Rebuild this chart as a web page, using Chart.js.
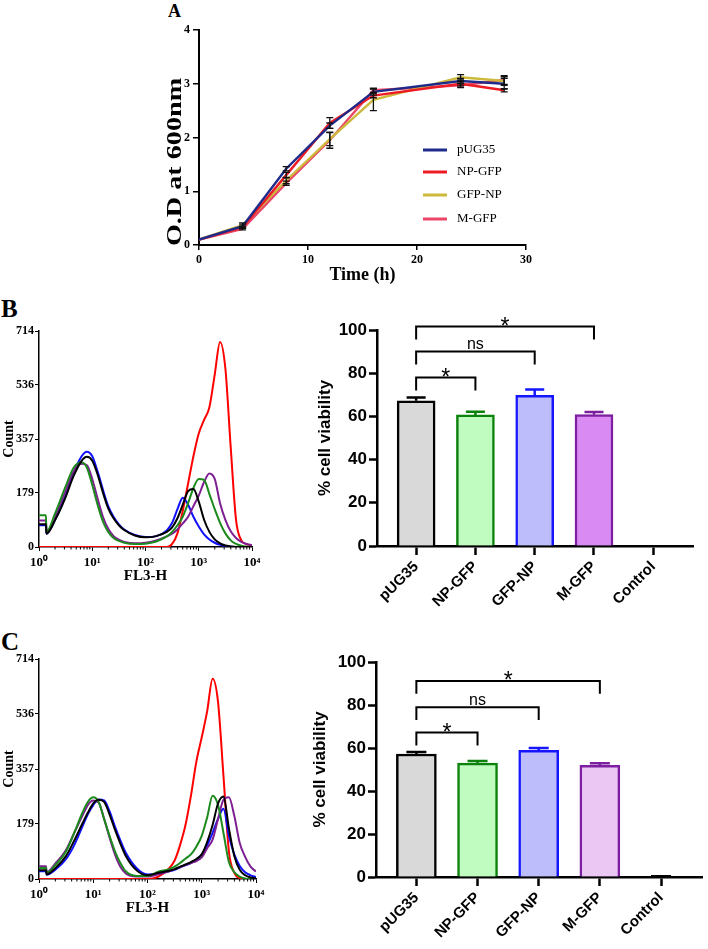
<!DOCTYPE html>
<html><head><meta charset="utf-8">
<script src="https://cdn.jsdelivr.net/npm/chart.js"></script>
<style>
html,body{margin:0;padding:0;background:#fff;}
body{width:708px;height:949px;position:relative;overflow:hidden;}
canvas{position:absolute;}
.lbl{position:absolute;font-family:"Liberation Serif",serif;font-weight:bold;color:#000;line-height:1;}
</style></head><body>
<div class="lbl" style="left:168px;top:2px;font-size:18px;line-height:18px">A</div>
<div class="lbl" style="left:1px;top:296px;font-size:25px;line-height:25px">B</div>
<div class="lbl" style="left:1px;top:629px;font-size:25px;line-height:25px">C</div>
<canvas id="cA" width="410" height="290" style="left:150px;top:0px"></canvas>
<canvas id="cBh" width="290" height="310" style="left:0px;top:290px"></canvas>
<canvas id="cBb" width="408" height="330" style="left:300px;top:290px"></canvas>
<canvas id="cCh" width="290" height="349" style="left:0px;top:600px"></canvas>
<canvas id="cCb" width="408" height="349" style="left:300px;top:600px"></canvas>
<script>
// ---------------- Panel A: growth curves ----------------
const timeH   = [0, 4, 8, 12, 16, 24, 28];
const odNames = ['pUG35', 'NP-GFP', 'GFP-NP', 'M-GFP'];
const odPUG35 = [0.10, 0.35, 1.42, 2.22, 2.85, 3.05, 3.00];
const odNPGFP = [0.10, 0.33, 1.30, 2.27, 2.78, 3.00, 2.88];
const odGFPNP = [0.10, 0.37, 1.20, 1.97, 2.70, 3.12, 3.05];
const odMGFP  = [0.10, 0.30, 1.15, 1.95, 2.88, 2.97, 3.07];
const sdPUG35 = [0, 0.04, 0.04, 0.05, 0.06, 0.05, 0.10];
const sdNPGFP = [0, 0.02, 0.05, 0.10, 0.04, 0.04, 0.03];
const sdGFPNP = [0, 0.04, 0.06, 0.12, 0.20, 0.05, 0.08];
const sdMGFP  = [0, 0.02, 0.04, 0.15, 0.04, 0.04, 0.08];
const odXTicks = [0, 10, 20, 30];
const odYTicks = [0, 1, 2, 3, 4];

// ---------------- Panels B/C: FL3-H histograms ----------------
const flDecade = [0, 0.13, 0.14, 0.3, 0.5, 0.65, 0.8, 0.9, 1.0, 1.1, 1.2, 1.3, 1.4, 1.5, 1.6, 1.8, 2.0, 2.2, 2.4,
                  2.5, 2.6, 2.7, 2.8, 2.9, 3.0, 3.1, 3.2, 3.3, 3.4, 3.5, 3.6, 3.7, 3.8, 3.9, 4.0];
const flTicks = [0, 1, 2, 3, 4];
const flTickLabels = ['10\u2070', '10\u00B9', '10\u00B2', '10\u00B3', '10\u2074'];
const countTicks = [0, 179, 357, 536, 714];

const histB_pUG35 = [75,75,44,88,165,235,285,298,285,240,180,128,95,72,56,38,32,36,50, 65,95,140,185,192,150,90,50,25,12,5,2,0,0,0,0];
const histB_NPGFP = [105,105,50,110,200,262,280,262,205,140,85,50,30,20,14,10,11,18,35, 50,72,100,145,195,225,222,175,125,80,45,22,10,4,1,0];
const histB_MGFP  = [88,88,50,100,185,250,275,270,225,160,100,60,36,24,17,12,14,22,35, 44,58,78,100,135,170,215,243,225,145,90,52,30,17,10,6];
const histB_GFPNP = [72,72,44,90,170,245,300,315,300,250,190,135,100,75,58,40,33,36,55, 80,125,163,140,100,68,42,25,14,7,3,1,0,0,0,0];
const histB_Ctrl  = [0,0,0,0,0,0,0,0,0,0,0,0,0,0,0,0,0,0,0, 10,45,120,210,300,375,420,462,570,678,590,330,90,22,9,5];

const histC_pUG35 = [28,28,15,35,75,125,180,215,245,257,250,210,160,115,75,28,12,20,27, 32,40,47,55,65,80,120,175,245,268,165,75,30,12,5,2];
const histC_NPGFP = [36,36,20,45,90,150,215,250,265,250,195,140,90,52,25,10,10,24,32, 40,52,66,80,105,140,200,270,240,150,55,22,8,2,0,0];
const histC_MGFP  = [41,41,22,50,95,150,205,240,255,248,195,135,80,40,18,8,8,15,25, 32,38,45,52,58,70,100,128,195,257,265,205,117,72,40,24];
const histC_GFPNP = [25,25,14,30,65,110,170,210,240,258,255,220,170,125,85,35,15,18,25, 30,38,45,52,62,80,110,150,195,228,140,80,42,22,12,6];
const histC_Ctrl  = [0,0,0,0,0,0,0,0,0,0,0,0,0,0,0,0,0,8,35, 60,110,175,270,380,460,545,650,575,335,90,20,3,0,0,0];

// ---------------- Panels B/C: viability bars ----------------
const groups   = ['pUG35', 'NP-GFP', 'GFP-NP', 'M-GFP', 'Control'];
const viabB    = [67.2, 60.7, 69.8, 60.8, 0];
const viabErrB = [1.6, 1.4, 2.6, 1.2, 0];
const viabC    = [57.2, 53.0, 58.9, 51.9, 0];
const viabErrC = [0.9, 0.9, 1.1, 1.0, 0.3];
const viabTicks = [0, 20, 40, 60, 80, 100];
const sigPairs  = [[0, 1], [0, 2], [0, 3]];
const sigLabels = ['*', 'ns', '*'];
const sigLevelB = [78, 90, 101.6];
const sigLevelC = [67.2, 79, 91.2];

// ---------------- styles ----------------
const SERIF = '"Liberation Serif", "Times New Roman", serif';
const SANS = '"Liberation Sans", Arial, sans-serif';
const odColors = ['#1f2b8a', '#ec1c24', '#cdb93c', '#ea4668'];
const histColors = {pUG35:'#000000', NPGFP:'#1d8a1d', MGFP:'#7d1f91', GFPNP:'#1010ff', Ctrl:'#ff0000'};
const barBorders = ['#000000', '#0b820b', '#1515ff', '#7d1fa0', '#000000'];
const barFillsB  = ['#d9d9d9', '#c0fbc0', '#bdbdfb', '#d98bf3', '#ffffff'];
const barFillsC  = ['#d9d9d9', '#c0fbc0', '#bdbdfb', '#ebc8f3', '#ffffff'];

// ---------------- plugins ----------------
const odErrorBars = {
  id: 'odErrorBars',
  afterDatasetsDraw(chart) {
    const {ctx, scales: {x, y}} = chart;
    ctx.save(); ctx.strokeStyle = '#111'; ctx.lineWidth = 1.3;
    chart.data.datasets.forEach(ds => {
      ds.data.forEach((p, i) => {
        const e = ds.sd[i]; if (!e) return;
        const px = x.getPixelForValue(p.x), yt = y.getPixelForValue(p.y + e), yb = y.getPixelForValue(p.y - e);
        ctx.beginPath();
        ctx.moveTo(px, yt); ctx.lineTo(px, yb);
        ctx.moveTo(px - 3.5, yt); ctx.lineTo(px + 3.5, yt);
        ctx.moveTo(px - 3.5, yb); ctx.lineTo(px + 3.5, yb);
        ctx.stroke();
      });
    });
    ctx.restore();
  }
};
const odLegend = {
  id: 'odLegend',
  afterDraw(chart, args, o) {
    const ctx = chart.ctx;
    ctx.save();
    ctx.font = '13px ' + SERIF; ctx.textBaseline = 'middle'; ctx.fillStyle = '#000';
    chart.data.datasets.forEach((ds, i) => {
      const yy = o.y[i];
      ctx.strokeStyle = ds.borderColor; ctx.lineWidth = 3;
      ctx.beginPath(); ctx.moveTo(o.x, yy); ctx.lineTo(o.x + 24, yy); ctx.stroke();
      ctx.fillText(ds.label, o.x + 34, yy);
    });
    ctx.restore();
  }
};
const stretchedYTitle = {
  id: 'stretchedYTitle',
  afterDraw(chart, args, o) {
    const ctx = chart.ctx;
    ctx.save();
    ctx.translate(o.x, o.y); ctx.rotate(-Math.PI / 2); ctx.scale(o.stretch, 1);
    ctx.font = o.font; ctx.textAlign = 'center'; ctx.textBaseline = 'middle'; ctx.fillStyle = '#000';
    ctx.fillText(o.text, 0, 0);
    ctx.restore();
  }
};
const logMinorTicks = {
  id: 'logMinorTicks',
  afterDraw(chart) {
    const xs = chart.scales.x, ctx = chart.ctx, y0 = chart.chartArea.bottom;
    ctx.save(); ctx.strokeStyle = '#000'; ctx.lineWidth = 1;
    for (let d = 0; d < 4; d++) for (let k = 2; k < 10; k++) {
      const px = xs.getPixelForValue(d + Math.log10(k));
      ctx.beginPath(); ctx.moveTo(px, y0); ctx.lineTo(px, y0 + 2.5); ctx.stroke();
    }
    ctx.restore();
  }
};
const barExtras = {
  id: 'barExtras',
  afterDatasetsDraw(chart, args, o) {
    const {ctx, scales: {x, y}} = chart;
    const ds = chart.data.datasets[0];
    ctx.save();
    // upward error bars
    ds.data.forEach((p, i) => {
      const e = ds.err[i]; if (!e) return;
      const px = x.getPixelForValue(p.x), y0 = y.getPixelForValue(p.y), y1 = y.getPixelForValue(p.y + e);
      ctx.strokeStyle = ds.borderColor[i]; ctx.lineWidth = 2.5;
      ctx.beginPath(); ctx.moveTo(px, y0); ctx.lineTo(px, y1);
      ctx.moveTo(px - o.cap / 2, y1); ctx.lineTo(px + o.cap / 2, y1); ctx.stroke();
    });
    // significance brackets
    ctx.strokeStyle = '#000'; ctx.lineWidth = 2; ctx.fillStyle = '#000'; ctx.textAlign = 'center';
    o.pairs.forEach((pr, k) => {
      const x1 = x.getPixelForValue(pr[0]), x2 = x.getPixelForValue(pr[1]);
      const yl = y.getPixelForValue(o.levels[k]), yd = y.getPixelForValue(o.levels[k] - 6);
      ctx.beginPath(); ctx.moveTo(x1, yd); ctx.lineTo(x1, yl); ctx.lineTo(x2, yl); ctx.lineTo(x2, yd); ctx.stroke();
      const t = o.labels[k];
      ctx.textBaseline = 'alphabetic';
      if (t === '*') { ctx.font = '23px ' + SANS; ctx.fillText(t, (x1 + x2) / 2, yl + 7); }
      else { ctx.font = '16px ' + SANS; ctx.fillText(t, (x1 + x2) / 2, yl - 2.5); }
    });
    ctx.restore();
  }
};

// ---------------- Panel A chart ----------------
const odVals = [odPUG35, odNPGFP, odGFPNP, odMGFP];
const odSds = [sdPUG35, sdNPGFP, sdGFPNP, sdMGFP];
new Chart(document.getElementById('cA'), {
  type: 'line',
  data: {
    datasets: odNames.map((n, k) => ({
      label: n, sd: odSds[k],
      data: timeH.map((t, i) => ({x: t, y: odVals[k][i]})),
      borderColor: odColors[k], borderWidth: 2.4, pointRadius: 0, tension: 0, fill: false
    }))
  },
  options: {
    responsive: false, animation: false,
    layout: {padding: {left: 0, top: 30, right: 34, bottom: 0}},
    plugins: {
      legend: {display: false}, tooltip: {enabled: false},
      odLegend: {x: 273, y: [150, 172, 195, 219]},
      stretchedYTitle: {x: 25, y: 162, stretch: 1.28, text: 'O.D at 600nm', font: 'bold 22px ' + SERIF}
    },
    scales: {
      x: {
        type: 'linear', min: 0, max: 30,
        afterBuildTicks: a => { a.ticks = odXTicks.map(v => ({value: v})); },
        ticks: {color: '#000', font: {family: SERIF, weight: 'bold', size: 12}, padding: 3, maxRotation: 0},
        grid: {drawOnChartArea: false, tickLength: 5, color: '#000', lineWidth: 1.5},
        border: {color: '#000', width: 2},
        title: {display: true, text: 'Time (h)', color: '#000', font: {family: SERIF, weight: 'bold', size: 18}, padding: {top: 0, bottom: 4}},
        afterFit: s => { s.height = 45; }
      },
      y: {
        type: 'linear', min: 0, max: 4,
        afterBuildTicks: a => { a.ticks = odYTicks.map(v => ({value: v})); },
        ticks: {color: '#000', font: {family: SERIF, weight: 'bold', size: 12}, padding: 3},
        grid: {drawOnChartArea: false, tickLength: 6, color: '#000', lineWidth: 1.5},
        border: {color: '#000', width: 2},
        afterFit: s => { s.width = 49; }
      }
    }
  },
  plugins: [odErrorBars, odLegend, stretchedYTitle]
});

// ---------------- histogram charts ----------------
function makeHist(id, series, pad) {
  const order = ['pUG35', 'NPGFP', 'MGFP', 'GFPNP', 'Ctrl'];
  new Chart(document.getElementById(id), {
    type: 'line',
    data: {
      datasets: order.map(key => ({
        label: key,
        data: flDecade.map((d, i) => ({x: d, y: series[key][i]})),
        borderColor: histColors[key], borderWidth: 2, pointRadius: 0,
        cubicInterpolationMode: 'monotone', fill: false
      }))
    },
    options: {
      responsive: false, animation: false,
      layout: {padding: pad},
      plugins: {legend: {display: false}, tooltip: {enabled: false}},
      scales: {
        x: {
          type: 'linear', min: 0, max: 4,
          afterBuildTicks: a => { a.ticks = flTicks.map(v => ({value: v})); },
          ticks: {color: '#000', font: {family: SERIF, weight: 'bold', size: 13}, padding: 4, maxRotation: 0,
                  callback: v => flTickLabels[Math.round(v)]},
          grid: {drawOnChartArea: false, tickLength: 4, color: '#000', lineWidth: 1},
          border: {color: '#000', width: 1.5},
          title: {display: true, text: 'FL3-H', color: '#000', font: {family: SERIF, weight: 'bold', size: 15}, padding: {top: 0, bottom: 2}},
          afterFit: s => { s.height = 40; }
        },
        y: {
          type: 'linear', min: 0, max: 714,
          afterBuildTicks: a => { a.ticks = countTicks.map(v => ({value: v})); },
          ticks: {color: '#000', font: {family: SERIF, weight: 'bold', size: 12}, padding: 1},
          grid: {drawOnChartArea: false, tickLength: 4, color: '#000', lineWidth: 1},
          border: {color: '#000', width: 1.5},
          title: {display: true, text: 'Count', color: '#000', font: {family: SERIF, weight: 'bold', size: 14}, padding: {top: 1, bottom: 0}},
          afterFit: s => { s.width = 39; }
        }
      }
    },
    plugins: [logMinorTicks]
  });
}
makeHist('cBh', {pUG35: histB_pUG35, NPGFP: histB_NPGFP, MGFP: histB_MGFP, GFPNP: histB_GFPNP, Ctrl: histB_Ctrl},
         {left: 0, top: 41, right: 38, bottom: 13});
makeHist('cCh', {pUG35: histC_pUG35, NPGFP: histC_NPGFP, MGFP: histC_MGFP, GFPNP: histC_GFPNP, Ctrl: histC_Ctrl},
         {left: 0, top: 59, right: 34, bottom: 30});

// ---------------- bar charts ----------------
function makeBar(id, vals, errs, fills, levels, pad, yW, xH, barW, cap) {
  new Chart(document.getElementById(id), {
    type: 'bar',
    data: {
      datasets: [{
        data: groups.map((g, i) => ({x: i, y: vals[i]})), err: errs,
        backgroundColor: fills, borderColor: barBorders, borderWidth: 2.5, barThickness: barW
      }]
    },
    options: {
      responsive: false, animation: false,
      layout: {padding: pad},
      plugins: {legend: {display: false}, tooltip: {enabled: false},
                barExtras: {cap: cap, pairs: sigPairs, labels: sigLabels, levels: levels}},
      scales: {
        x: {
          type: 'linear', min: -0.66, max: 4.67, offset: false,
          afterBuildTicks: a => { a.ticks = groups.map((g, i) => ({value: i})); },
          ticks: {color: '#000', font: {family: SANS, weight: 'bold', size: 15}, padding: 3,
                  minRotation: 45, maxRotation: 45, autoSkip: false,
                  callback: v => groups[Math.round(v)]},
          grid: {drawOnChartArea: false, offset: false, tickLength: 9, tickWidth: 2.5, color: '#000'},
          border: {color: '#000', width: 2.5},
          afterFit: s => { s.height = xH; }
        },
        y: {
          type: 'linear', min: 0, max: 100,
          afterBuildTicks: a => { a.ticks = viabTicks.map(v => ({value: v})); },
          ticks: {color: '#000', font: {family: SANS, weight: 'bold', size: 17}, padding: 2},
          grid: {drawOnChartArea: false, tickLength: 8, tickWidth: 2.5, color: '#000'},
          border: {color: '#000', width: 2.5},
          title: {display: true, text: '% cell viability', color: '#000', font: {family: SANS, weight: 'bold', size: 17}, padding: {top: 4, bottom: 0}},
          afterFit: s => { s.width = yW; }
        }
      }
    },
    plugins: [barExtras]
  });
}
makeBar('cBb', viabB, viabErrB, barFillsB, sigLevelB, {left: 11, top: 40, right: 15, bottom: 0}, 66, 74, 38, 19);
makeBar('cCb', viabC, viabErrC, barFillsC, sigLevelC, {left: 6, top: 62, right: 6, bottom: 0}, 70, 72, 40, 20);
</script>
</body></html>
